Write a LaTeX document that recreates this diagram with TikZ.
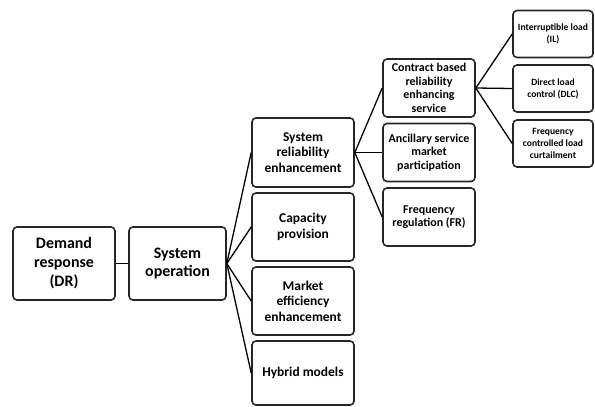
\documentclass[tikz,border=0pt]{standalone}
\usepackage{fontspec}
\setmainfont{Carlito}
\begin{document}
\begin{tikzpicture}[x=1bp, y=-1bp, line width=1.3bp,
	box/.style={draw=black!85, line width=1.6bp, rounded corners=4bp, align=center, inner sep=1bp},
	lvlone/.style={box, font=\fontsize{16}{19}\selectfont\bfseries},
	lvltwo/.style={box, minimum width=102bp, font=\fontsize{13.5}{15.5}\selectfont\bfseries},
	lvlthree/.style={box, minimum width=92bp, minimum height=58bp, font=\fontsize{12}{13.5}\selectfont\bfseries},
	lvlfour/.style={box, minimum width=80bp, minimum height=47bp, font=\fontsize{9.6}{12}\selectfont\bfseries}]
	\useasboundingbox (0,0) rectangle (595,406);

	% first two boxes
	\node[lvlone, minimum width=102bp, minimum height=73bp] (dr) at (64,263.5) {Demand\\response\\(DR)};
	\node[lvlone, minimum width=97bp, minimum height=73bp] (so) at (177.5,263.5) {System\\operation};

	% third column
	\node[lvltwo, minimum height=69bp] (sre) at (303,152.5) {System\\reliability\\enhancement};
	\node[lvltwo, minimum height=68bp] (cp) at (303,227) {Capacity\\provision};
	\node[lvltwo, minimum height=68bp] (me) at (303,301) {Market\\efficiency\\enhancement};
	\node[lvltwo, minimum height=64bp] (hm) at (303,373) {Hybrid models};

	% fourth column
	\node[lvlthree] (cb) at (429,88) {Contract based\\reliability\\enhancing\\service};
	\node[lvlthree] (as) at (429,152.5) {Ancillary service\\market\\participation};
	\node[lvlthree] (fr) at (429,217) {Frequency\\regulation (FR)};

	% fifth column
	\node[lvlfour] (il) at (553,34) {Interruptible load\\(IL)};
	\node[lvlfour] (dlc) at (553,88.5) {Direct load\\control (DLC)};
	\node[lvlfour] (fcl) at (553,143.5) {Frequency\\controlled load\\curtailment};

	\draw (dr) -- (so);
	\foreach \n in {sre, cp, me, hm}
		\draw (so.east) -- (\n.west);
	\foreach \n in {cb, as, fr}
		\draw (sre.east) -- (\n.west);
	\foreach \n in {il, dlc, fcl}
		\draw (cb.east) -- (\n.west);
\end{tikzpicture}
\end{document}
